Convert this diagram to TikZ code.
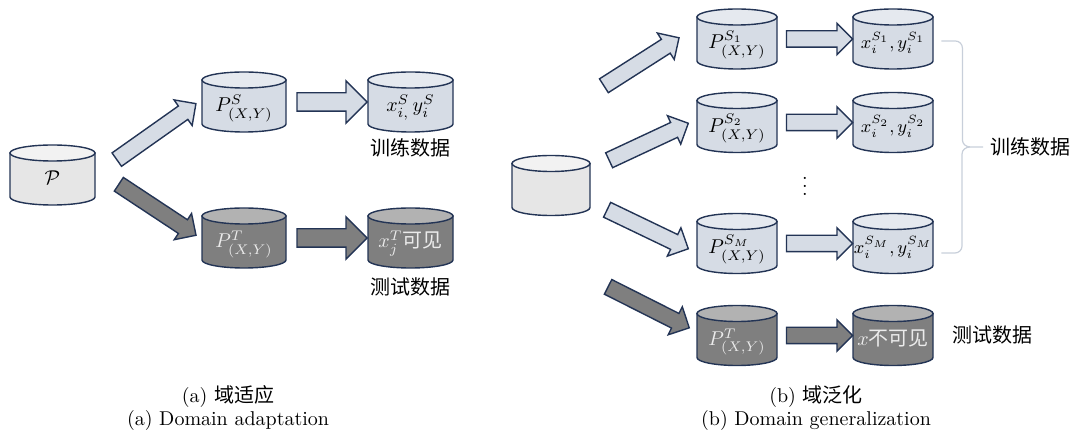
\documentclass[tikz,border=0pt]{standalone}
\usepackage{amsmath}
\usepackage{amssymb}
\usepackage{fontspec}
\newfontfamily\cjk{Noto Sans CJK SC}
\usetikzlibrary{
  shapes,
  calc
}
\definecolor{navy}{RGB}{35,52,85}
\definecolor{lightbody}{RGB}{214,220,229}
\definecolor{lighttop}{RGB}{229,233,239}
\definecolor{graybody}{RGB}{230,230,230}
\definecolor{graytop}{RGB}{242,242,242}
\definecolor{darkbody}{RGB}{127,127,127}
\definecolor{darktop}{RGB}{178,178,178}
\definecolor{bracecol}{RGB}{200,207,218}

\newcommand\db[6][]{%
  \begin{scope}[shift={#4}]
    \draw[edge, fill=#2body] (-#5,-22) -- (-#5,22)
      arc[start angle=180, end angle=0, x radius=#5, y radius=8] -- (#5,-22) -- cycle;
    \draw[edge, fill=#2top] (0,-22) ellipse[x radius=#5, y radius=8];
  \end{scope}
  \node[dbtext, minimum width=#5pt, #1] (#3) at #4 {#6};}

\newcommand\fatarrow[3]{\path let \p1=#2, \p2=#3,
  \n1={atan2(\y2-\y1,\x2-\x1)}, \n2={veclen(\x2-\x1,\y2-\y1)} in
  node[#1, rotate=\n1, minimum height=\n2] at ($(\p1)!.5!(\p2)$) {};}

\begin{document}
\begin{tikzpicture}[x=0.5pt, y=-0.5pt,
  edge/.style = {draw=navy, line width=0.7pt},
  dbtext/.style = {inner sep=0pt, minimum height=30pt,
    text height=1.3em, text depth=0.3em},
  dark/.style = {text=white!92!black},
  blockarrow/.style = {single arrow, edge, inner xsep=0pt,
    single arrow head indent=0pt},
  lightarrow/.style = {blockarrow, fill=lightbody},
  darkarrow/.style = {blockarrow, fill=darkbody},
  bigtip/.style = {inner ysep=4.25pt, single arrow head extend=6pt},
  smalltip/.style = {inner ysep=3.75pt, single arrow head extend=3.75pt},
  brace/.style = {draw=bracecol, line width=0.6pt}]
  \useasboundingbox (0,0) rectangle (1074,437);

  \db{gray}{src}{(52.5,175)}{42.5}{$\mathcal{P}$}
  \db{light}{ps}{(244,102)}{42}{$P^{S}_{(X,Y)}$}
  \db{light}{xs}{(410.5,102)}{42.5}{$x^{S}_{i,}\,y^{S}_{i}$}
  \db[dark]{dark}{pt}{(244,238)}{42}{$P^{T}_{(X,Y)}$}
  \db[dark]{dark}{xt}{(410.5,238)}{42.5}{$x^{T}_{j}$\cjk 可见}
  \node (tra) at (410,148) {\cjk 训练数据};
  \node (tea) at (410,287) {\cjk 测试数据};

  \fatarrow{lightarrow, smalltip}{($(src.east)+(18,-13)$)}{($(ps.west)+(-9,4)$)}
  \fatarrow{darkarrow, smalltip}{($(src.east)+(20,7)$)}{($(pt.west)+(-9,-5)$)}
  \fatarrow{lightarrow, bigtip}{($(ps.east)+(6,0)$)}{($(xs.west)+(-5,0)$)}
  \fatarrow{darkarrow, bigtip}{($(pt.east)+(6,0)$)}{($(xt.west)+(-5,0)$)}

  \db{gray}{srcb}{(551,185.5)}{39}{}
  \db{light}{p1}{(737,39)}{40}{$P^{S_1}_{(X,Y)}$}
  \db{light}{p2}{(737,122.5)}{40}{$P^{S_2}_{(X,Y)}$}
  \db{light}{pm}{(737,243.5)}{40}{$P^{S_M}_{(X,Y)}$}
  \db[dark]{dark}{ptb}{(737,335.5)}{40}{$P^{T}_{(X,Y)}$}
  \db[font=\small]{light}{x1}{(893,39)}{40}{$x^{S_1}_{i}, y^{S_1}_{i}$}
  \db[font=\small]{light}{x2}{(893,122.5)}{40}{$x^{S_2}_{i}, y^{S_2}_{i}$}
  \db[font=\small]{light}{xm}{(893,243.5)}{40}{$x^{S_M}_{i}, y^{S_M}_{i}$}
  \db[dark]{dark}{xtb}{(893,335.5)}{40}{$x$\cjk 不可见}
  \node (dots) at (805,180) {$\vdots$};
  \node[anchor=west] (trb) at (983,147) {\cjk 训练数据};
  \node[anchor=west] (teb) at (945,335) {\cjk 测试数据};

  \fatarrow{lightarrow, smalltip}{($(srcb.east)+(10,-97.5)$)}{($(p1.west)+(-21,1)$)}
  \fatarrow{lightarrow, smalltip}{($(srcb.east)+(15,-23.5)$)}{($(p2.west)+(-12,2.5)$)}
  \fatarrow{lightarrow, smalltip}{($(srcb.east)+(13,22.5)$)}{($(pm.west)+(-12,3.5)$)}
  \fatarrow{darkarrow, smalltip}{($(srcb.east)+(14,99.5)$)}{($(ptb.west)+(-11,-9.5)$)}
  \foreach \a/\b in {p1/x1, p2/x2, pm/xm}{
    \fatarrow{lightarrow, smalltip}{($(\a.east)+(5,0)$)}{($(\b.west)+(-4,0)$)}
  }
  \fatarrow{darkarrow, smalltip}{($(ptb.east)+(5,0)$)}{($(xtb.west)+(-4,0)$)}

  \draw[brace] ($(x1.east)+(8,2)$) -- ++(14,0) to[out=0,in=90] ++(7,7)
    |- ++(0,92) to[out=-90,in=180] ++(8,7) -- (trb.west);
  \draw[brace] ($(trb.west)+(-13,0)$) to[out=180,in=90] ++(-8,7)
    -- ++(0,92) to[out=-90,in=0] ++(-7,7) -- ($(xm.east)+(8,9.5)$);

  \node (capa) at (228,397) {(a) {\cjk 域适应}};
  \node (capa2) at (228,420) {(a) Domain adaptation};
  \node (capb) at (816,397) {(b) {\cjk 域泛化}};
  \node (capb2) at (816,420) {(b) Domain generalization};
\end{tikzpicture}
\end{document}
